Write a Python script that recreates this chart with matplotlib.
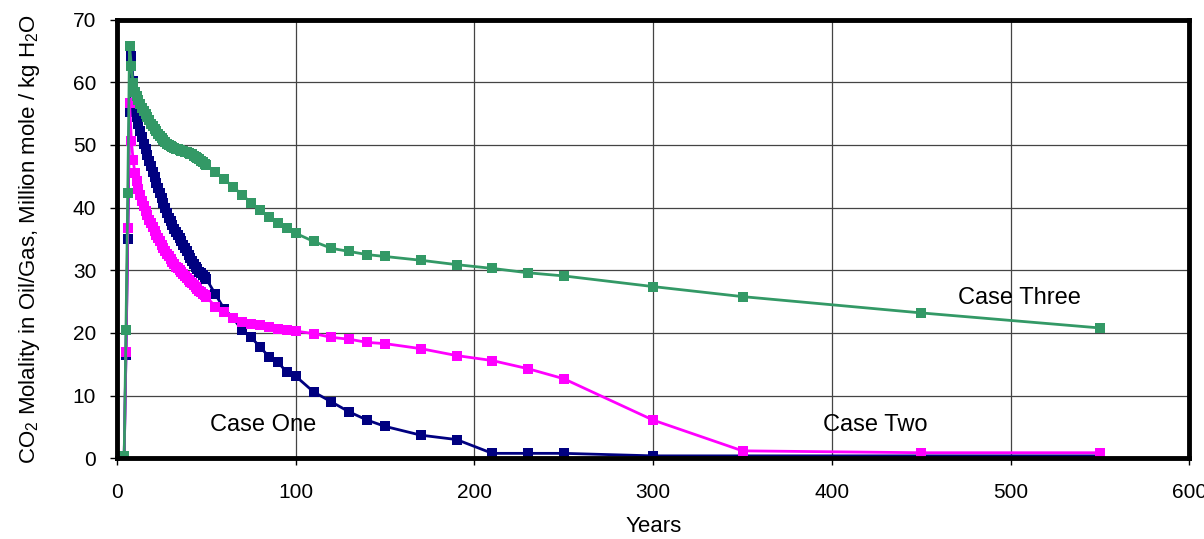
import matplotlib.pyplot as plt

plt.rcParams['font.family'] = ['Liberation Sans', 'DejaVu Sans']
plt.rcParams['mathtext.fontset'] = 'custom'
plt.rcParams['mathtext.rm'] = 'Liberation Sans'

# time axis (years), shared by the three cases
years = [0, 1, 2, 3, 4, 5, 6, 7, 8, 9,
         10, 11, 12, 13, 14, 15, 16, 17, 18, 19,
         20, 21, 22, 23, 24, 25, 26, 27, 28, 29,
         30, 31, 32, 33, 34, 35, 36, 37, 38, 39,
         40, 41, 42, 43, 44, 45, 46, 47, 48, 49, 50,
         55, 60, 65, 70, 75, 80, 85, 90, 95, 100,
         110, 120, 130, 140, 150, 170, 190, 210, 230, 250,
         300, 350, 450, 550]

case_one = [0.3, 0.3, 0.3, 0.3, 0.3, 16.5, 35.0, 55.3, 64.2, 60.2,
            55.5, 54.5, 53.3, 52.2, 51.2, 50.2, 49.3, 48.4, 47.5, 46.6,
            45.7, 44.8, 44.0, 43.1, 42.3, 41.5, 40.7, 39.9, 39.1, 38.4,
            37.8, 37.2, 36.6, 36.1, 35.6, 35.1, 34.6, 34.1, 33.5, 33.0,
            32.5, 32.0, 31.5, 31.0, 30.6, 30.2, 29.8, 29.5, 29.2, 28.9, 28.6,
            26.2, 23.8, 22.4, 20.4, 19.3, 17.8, 16.2, 15.4, 13.7, 13.1,
            10.6, 9.0, 7.4, 6.1, 5.1, 3.7, 3.0, 0.8, 0.8, 0.8,
            0.4, 0.4, 0.4, 0.4]

case_two = [0.3, 0.3, 0.3, 0.3, 0.3, 16.9, 36.7, 56.7, 50.7, 47.6,
            45.5, 44.2, 43.0, 42.0, 41.1, 40.3, 39.5, 38.8, 38.1, 37.5,
            36.9, 36.3, 35.7, 35.1, 34.6, 34.1, 33.6, 33.1, 32.6, 32.2,
            31.8, 31.4, 31.0, 30.6, 30.3, 30.0, 29.7, 29.4, 29.1, 28.8,
            28.5, 28.2, 27.9, 27.6, 27.3, 27.0, 26.7, 26.5, 26.2, 26.0, 25.8,
            24.2, 23.3, 22.4, 21.8, 21.5, 21.2, 21.0, 20.7, 20.5, 20.3,
            19.9, 19.3, 19.0, 18.5, 18.3, 17.5, 16.4, 15.6, 14.3, 12.7,
            6.1, 1.2, 0.9, 0.9]

case_three = [0.3, 0.3, 0.3, 0.3, 0.3, 20.5, 42.3, 65.8, 62.6, 59.8,
              58.5, 57.8, 57.1, 56.5, 55.9, 55.4, 54.9, 54.4, 53.9, 53.4,
              53.0, 52.6, 52.2, 51.8, 51.4, 51.1, 50.8, 50.5, 50.2, 50.0,
              49.8, 49.6, 49.5, 49.4, 49.3, 49.2, 49.1, 49.0, 48.9, 48.8,
              48.7, 48.6, 48.5, 48.3, 48.1, 47.9, 47.7, 47.4, 47.2, 47.0, 46.8,
              45.7, 44.5, 43.3, 42.0, 40.8, 39.6, 38.5, 37.5, 36.7, 35.9,
              34.6, 33.5, 33.0, 32.5, 32.2, 31.6, 30.9, 30.3, 29.6, 29.1,
              27.4, 25.8, 23.2, 20.8]

fig = plt.figure(figsize=(12.04, 5.39), dpi=100)
ax = fig.add_axes([0.0972, 0.1496, 0.8906, 0.8142])

style = dict(marker='s', markersize=7, linewidth=2.0, markeredgewidth=0)
ax.plot(years, case_one, color='#000080', **style)
ax.plot(years, case_two, color='#FF00FF', **style)
ax.plot(years, case_three, color='#339966', **style)

ax.set_xlim(0, 600)
ax.set_ylim(0, 70)
ax.set_xticks(range(0, 601, 100))
ax.set_yticks(range(0, 71, 10))
ax.grid(True, color='#444444', linewidth=0.9)
ax.set_axisbelow(True)
for s in ax.spines.values():
    s.set_linewidth(3.5)
    s.set_color('black')
ax.tick_params(axis='x', labelsize=15, length=5, width=1, pad=13)
ax.tick_params(axis='y', labelsize=15, length=5, width=1, pad=10)

ax.set_xlabel('Years', fontsize=16, labelpad=10)
ax.set_ylabel('CO$_2$ Molality in Oil/Gas, Million mole / kg H$_2$O', fontsize=16, labelpad=22)

ax.text(82, 5.3, 'Case One', fontsize=17, ha='center', va='center')
ax.text(424, 5.3, 'Case Two', fontsize=17, ha='center', va='center')
ax.text(505, 25.6, 'Case Three', fontsize=17, ha='center', va='center')

fig.savefig('out.png', dpi=100)
